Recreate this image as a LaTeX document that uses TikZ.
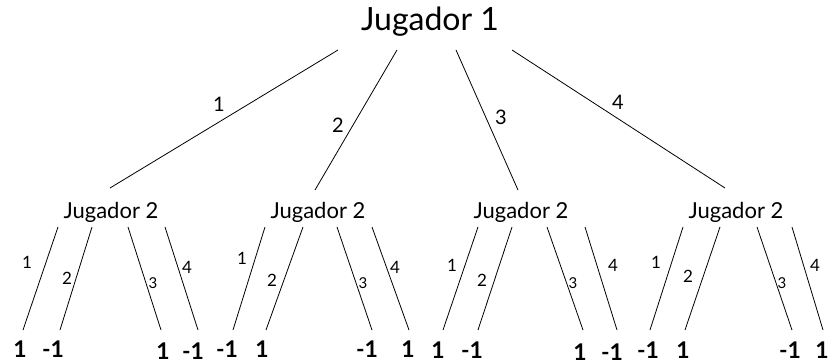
\documentclass[tikz,border=0pt]{standalone}
\usepackage{fontspec}
\setmainfont{Lato}
\usetikzlibrary{calc}
\begin{document}
\begin{tikzpicture}[x=1pt,y=1pt,
  edge/.style={line width=0.8pt},
  p1/.style={font=\fontsize{32}{36}\selectfont, inner sep=0},
  p2/.style={font=\fontsize{22}{25}\selectfont, inner sep=0},
  toplab/.style={font=\fontsize{20}{23}\selectfont, inner sep=0},
  lab/.style={font=\fontsize{17}{20}\selectfont, inner sep=0},
  smalllab/.style={font=\fontsize{15}{18}\selectfont, inner sep=0},
  val/.style={font=\bfseries\fontsize{23}{26}\selectfont, inner sep=0}]
\fill[white] (0,0) rectangle (828,-364);
\useasboundingbox (0,0) rectangle (828,-364);

\node[p1] (j1) at (430,-22) {Jugador 1};
\node[p2] (j2a) at (111,-212) {Jugador 2};
\node[p2] (j2b) at (318,-212) {Jugador 2};
\node[p2] (j2c) at (521,-212) {Jugador 2};
\node[p2] (j2d) at (736,-212) {Jugador 2};

% top edges
\draw[edge] ($(j1)+(-92,-28)$) -- ($(j2a)+(-1,24)$);
\draw[edge] ($(j1)+(-33,-28)$) -- ($(j2b)+(-3,22)$);
\draw[edge] ($(j1)+(26,-28)$) -- ($(j2c)+(-3,22)$);
\draw[edge] ($(j1)+(82,-28)$) -- ($(j2d)+(-11,24)$);
\node[toplab] (t1) at (219,-104) {1};
\node[toplab] (t2) at (338,-125) {2};
\node[toplab] (t3) at (501,-117) {3};
\node[toplab] (t4) at (618,-102) {4};

% leaves: group, tops, bottoms, label pos, values
\foreach \g/\ta/\tb/\tc/\td/\ba/\bb/\bc/\bd/\la/\lb/\lc/\ld/\lya/\lyb/\lyc/\lyd/\va/\vb/\vc/\vd/\xa/\xb/\xc/\xd/\ya/\yc in {
  j2a/58/92/128/165/23/60/161/198/27/67/153/187/262/278/283/267/1/-1/1/-1/20/53/163/193/349/351,
  j2b/265/303/337/372/233/266/372/409/242/272/363/395/258/280/283/267/-1/1/-1/1/227/262/367/408/349/349,
  j2c/478/512/547/585/443/478/583/617/452/482/573/613/265/280/283/265/1/-1/1/-1/438/472/580/612/350/352,
  j2d/683/720/757/792/650/685/792/823/656/688/782/815/262/276/283/265/-1/1/-1/1/648/683/790/822/350/350}{
  \coordinate (\g-ta) at (\ta,-227);
  \coordinate (\g-tb) at (\tb,-227);
  \coordinate (\g-tc) at (\tc,-227);
  \coordinate (\g-td) at (\td,-227);
  \coordinate (\g-ba) at (\ba,-330);
  \coordinate (\g-bb) at (\bb,-330);
  \coordinate (\g-bc) at (\bc,-330);
  \coordinate (\g-bd) at (\bd,-330);
  \draw[edge] (\g-ta) -- (\g-ba);
  \draw[edge] (\g-tb) -- (\g-bb);
  \draw[edge] (\g-tc) -- (\g-bc);
  \draw[edge] (\g-td) -- (\g-bd);
  \node[lab] (\g-la) at (\la,-\lya) {1};
  \node[lab] (\g-lb) at (\lb,-\lyb) {2};
  \node[smalllab] (\g-lc) at (\lc,-\lyc) {3};
  \node[lab] (\g-ld) at (\ld,-\lyd) {4};
  \node[val] (\g-va) at (\xa,-\ya) {\va};
  \node[val] (\g-vb) at (\xb,-\ya) {\vb};
  \node[val] (\g-vc) at (\xc,-\yc) {\vc};
  \node[val] (\g-vd) at (\xd,-\yc) {\vd};
}
\end{tikzpicture}
\end{document}
